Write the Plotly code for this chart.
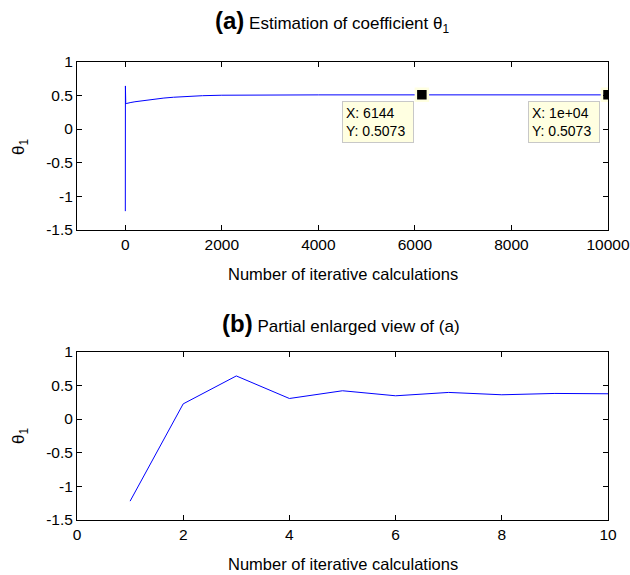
import plotly.graph_objects as go

# Early iterations (partial enlarged view)
iter_early = [1, 2, 3, 4, 5, 6, 7, 8, 9, 10]
theta_early = [-1.22, 0.225, 0.64, 0.305, 0.42, 0.345, 0.395, 0.36, 0.38, 0.375]

# Later iterations (convergence)
iter_late = [20, 50, 100, 200, 400, 600, 800, 1000, 1300, 1600, 2000, 2500, 3000, 4000, 6144, 8000, 10000]
theta_late = [0.378, 0.385, 0.392, 0.405, 0.425, 0.445, 0.46, 0.472, 0.485, 0.495, 0.502, 0.505, 0.506, 0.507, 0.5073, 0.5073, 0.5073]

tip_x = [6144, 10000]
tip_y = [0.5073, 0.5073]
tip_labels = ["6144", "1e+04"]

x_ticks_a = [0, 2000, 4000, 6000, 8000, 10000]
x_ticks_b = [0, 2, 4, 6, 8, 10]
y_ticks = [1, 0.5, 0, -0.5, -1, -1.5]
y_ticklabels = ["1", "0.5", "0", "-0.5", "-1", "-1.5"]

FONT = "Liberation Sans, Arial, sans-serif"
BLUE = "#0000FF"
H = 575.0

fig = go.Figure()
fig.add_trace(go.Scatter(x=iter_early + iter_late, y=theta_early + theta_late,
                         mode="lines", line=dict(color=BLUE, width=1),
                         xaxis="x", yaxis="y", showlegend=False))
fig.add_trace(go.Scatter(x=tip_x, y=tip_y, mode="markers",
                         marker=dict(symbol="square", size=12, color="black",
                                     line=dict(color="#FFFFE1", width=2.5)),
                         xaxis="x", yaxis="y", showlegend=False))
fig.add_trace(go.Scatter(x=iter_early, y=theta_early, mode="lines",
                         line=dict(color=BLUE, width=1),
                         xaxis="x2", yaxis="y2", showlegend=False))

axis_common = dict(showline=True, linecolor="black", linewidth=1, mirror="allticks",
                   ticks="inside", ticklen=5, tickcolor="black", showgrid=False,
                   zeroline=False, automargin=False,
                   tickfont=dict(family=FONT, size=15.5, color="black"))

top_dom = [(H - 230) / H, (H - 61.7) / H]
bot_dom = [(H - 520) / H, (H - 351.7) / H]

fig.update_layout(
    width=630, height=575,
    margin=dict(l=77, r=22, t=0, b=0),
    paper_bgcolor="white", plot_bgcolor="white",
    font=dict(family=FONT, color="black"),
    xaxis=dict(domain=[0, 1], range=[-1000, 10000], tickvals=x_ticks_a,
               ticktext=[str(v) for v in x_ticks_a], anchor="y", **axis_common),
    yaxis=dict(domain=top_dom, range=[-1.5, 1], tickvals=y_ticks, ticktext=y_ticklabels,
               anchor="x", **axis_common),
    xaxis2=dict(domain=[0, 1], range=[0, 10], tickvals=x_ticks_b,
                ticktext=[str(v) for v in x_ticks_b], anchor="y2", **axis_common),
    yaxis2=dict(domain=bot_dom, range=[-1.5, 1], tickvals=y_ticks, ticktext=y_ticklabels,
                anchor="x2", **axis_common),
)

def py(pix):
    return (H - pix) / H

def px(pix):
    return (pix - 77) / (630 - 77 - 22)

annotations = [
    dict(text="<b><span style='font-size:24px'>(a)</span></b> <span style='font-size:17px'>Estimation of coefficient θ<sub>1</sub></span>",
         xref="paper", yref="paper", x=px(332), y=py(22), xanchor="center", yanchor="middle",
         showarrow=False, font=dict(family=FONT, size=17, color="black")),
    dict(text="<b><span style='font-size:24px'>(b)</span></b> <span style='font-size:17px'>Partial enlarged view of (a)</span>",
         xref="paper", yref="paper", x=px(341), y=py(323), xanchor="center", yanchor="middle",
         showarrow=False, font=dict(family=FONT, size=17, color="black")),
    dict(text="Number of iterative calculations", xref="paper", yref="paper",
         x=px(343), y=py(274), xanchor="center", yanchor="middle", showarrow=False,
         font=dict(family=FONT, size=16.5, color="black")),
    dict(text="Number of iterative calculations", xref="paper", yref="paper",
         x=px(343), y=py(564), xanchor="center", yanchor="middle", showarrow=False,
         font=dict(family=FONT, size=16.5, color="black")),
    dict(text="θ<sub>1</sub>", xref="paper", yref="paper", x=px(20), y=py(147),
         xanchor="center", yanchor="middle", textangle=-90, showarrow=False,
         font=dict(family=FONT, size=17, color="black")),
    dict(text="θ<sub>1</sub>", xref="paper", yref="paper", x=px(20), y=py(436),
         xanchor="center", yanchor="middle", textangle=-90, showarrow=False,
         font=dict(family=FONT, size=17, color="black")),
]
for tx, ty, lab in zip(tip_x, tip_y, tip_labels):
    annotations.append(dict(
        text=f"X: {lab}<br>Y: {ty:.4f}", x=tx, y=ty, xref="x", yref="y",
        xanchor="right", yanchor="top", xshift=-8, yshift=-6, showarrow=False,
        align="left", bgcolor="#FFFFE1", bordercolor="#C8C8C8", borderwidth=1,
        borderpad=3, width=64, font=dict(family=FONT, size=14, color="black")))
fig.update_layout(annotations=annotations)

fig.write_html("out.html")
